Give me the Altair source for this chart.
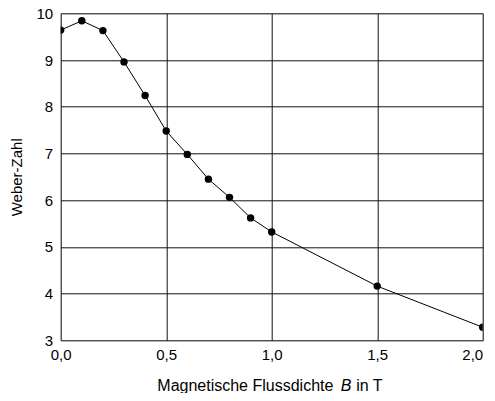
import altair as alt
import pandas as pd

B = [0.0, 0.1, 0.2, 0.3, 0.4, 0.5, 0.6, 0.7, 0.8, 0.9, 1.0, 1.5, 2.0]
weber = [9.64, 9.84, 9.63, 8.96, 8.24, 7.48, 6.98, 6.45, 6.06, 5.62, 5.32, 4.16, 3.28]

df = pd.DataFrame({"B": B, "We": weber})

FONT = "Liberation Sans"
W, H = 422, 327

xs = alt.Scale(domain=[0, 2], nice=False, zero=False)
ys = alt.Scale(domain=[3, 10], nice=False, zero=False)

xaxis = alt.Axis(values=[0, 0.5, 1, 1.5, 2], title=None, ticks=False, domain=False,
                 grid=True, gridColor="#111", gridWidth=1, gridOpacity=1,
                 labelExpr="replace(format(datum.value, '.1f'), '.', ',')",
                 labelAlign=alt.ExprRef(expr="datum.value >= 2 ? 'right' : 'center'"),
                 labelFont=FONT, labelFontSize=15, labelColor="black",
                 labelPadding=7, labelFlush=False)
yaxis = alt.Axis(values=[3, 4, 5, 6, 7, 8, 9, 10], title="Weber-Zahl", ticks=False, domain=False,
                 grid=True, gridColor="#111", gridWidth=1, gridOpacity=1,
                 labelFont=FONT, labelFontSize=15, labelColor="black",
                 labelPadding=8, labelFlush=False,
                 titleFont=FONT, titleFontSize=15, titleFontWeight="normal",
                 titleColor="black", titlePadding=12)

base = alt.Chart(df)
line = base.mark_line(color="black", strokeWidth=1, clip=True).encode(
    x=alt.X("B:Q", scale=xs, axis=xaxis),
    y=alt.Y("We:Q", scale=ys, axis=yaxis),
)
pts = base.mark_circle(color="black", opacity=1, size=55, clip=True).encode(
    x=alt.X("B:Q", scale=xs),
    y=alt.Y("We:Q", scale=ys),
)

tdf = pd.DataFrame({"t": [0]})
title_y = 373
t1 = alt.Chart(tdf).mark_text(text="Magnetische Flussdichte", font=FONT, fontSize=16,
                              align="left", baseline="middle", color="black").encode(
    x=alt.value(96.6), y=alt.value(title_y))
t2 = alt.Chart(tdf).mark_text(text="B", font=FONT, fontSize=16, fontStyle="italic",
                              align="left", baseline="middle", color="black").encode(
    x=alt.value(280.0), y=alt.value(title_y))
t3 = alt.Chart(tdf).mark_text(text="in T", font=FONT, fontSize=16,
                              align="left", baseline="middle", color="black").encode(
    x=alt.value(295.5), y=alt.value(title_y))

chart = alt.layer(line, pts, t1, t2, t3).properties(
    width=W, height=H,
    autosize=alt.AutoSizeParams(type="none"),
    padding={"left": 52.7, "top": 5.3, "right": 4.3, "bottom": 52.7},
).configure_view(stroke="black", strokeWidth=1.2).configure(background="white")

chart.save("out.html", embed_options={"renderer": "svg", "actions": False})
